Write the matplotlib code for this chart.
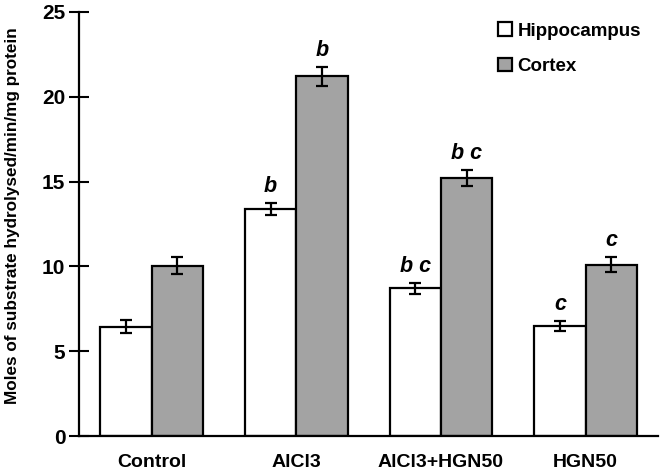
import matplotlib.pyplot as plt
import numpy as np

plt.rcParams['font.family'] = ['Liberation Sans', 'DejaVu Sans']
plt.rcParams['font.weight'] = 'bold'

groups = ["Control", "AlCl3", "AlCl3+HGN50", "HGN50"]
hippo = [6.45, 13.4, 8.7, 6.5]
hippo_err = [0.38, 0.35, 0.32, 0.31]
cortex = [10.05, 21.2, 15.2, 10.1]
cortex_err = [0.49, 0.57, 0.49, 0.46]
hippo_sig = ["", "b", "b c", "c"]
cortex_sig = ["", "b", "b c", "c"]

fig = plt.figure(figsize=(6.6, 4.75), dpi=100)
ax = fig.add_axes([0.12, 0.082, 0.877, 0.893])

x = np.arange(len(groups))
w = 0.355
ekw = dict(elinewidth=1.6, capsize=4, capthick=1.6, ecolor="black")
ax.bar(x - w/2, hippo, w, yerr=hippo_err, color="white", edgecolor="black",
       linewidth=1.6, error_kw=ekw, label="Hippocampus")
ax.bar(x + w/2, cortex, w, yerr=cortex_err, color="#a3a3a3", edgecolor="black",
       linewidth=1.6, error_kw=ekw, label="Cortex")

for i in range(len(groups)):
    ax.text(x[i] - w/2, hippo[i] + hippo_err[i] + 0.35, hippo_sig[i], ha="center",
            va="bottom", fontsize=15.5, style="italic", fontweight="bold")
    ax.text(x[i] + w/2, cortex[i] + cortex_err[i] + 0.35, cortex_sig[i], ha="center",
            va="bottom", fontsize=15.5, style="italic", fontweight="bold")

ax.set_xlim(-0.5, 3.5)
ax.set_ylim(0, 25)
ax.set_yticks([0, 5, 10, 15, 20, 25])
ax.set_xticks(x)
ax.set_xticklabels(groups, fontsize=14, fontweight="bold")
ax.tick_params(axis="x", length=0, pad=13)
ax.tick_params(axis="y", direction="inout", length=14, width=1.5, labelsize=15, pad=3)
for lab in ax.get_yticklabels():
    lab.set_fontweight("bold")
ax.spines["top"].set_visible(False)
ax.spines["right"].set_visible(False)
ax.spines["left"].set_linewidth(1.6)
ax.spines["bottom"].set_linewidth(1.6)
ax.set_ylabel("Moles of substrate hydrolysed/min/mg protein", fontsize=12.3,
              fontweight="bold")
ax.yaxis.set_label_coords(-0.103, 0.52)

ax.legend(loc="upper right", bbox_to_anchor=(1.0, 1.015), frameon=False,
          handlelength=0.75, handleheight=0.75, handletextpad=0.3, labelspacing=0.95,
          prop={"weight": "bold", "size": 13.5})

fig.savefig("out.png", dpi=100)
